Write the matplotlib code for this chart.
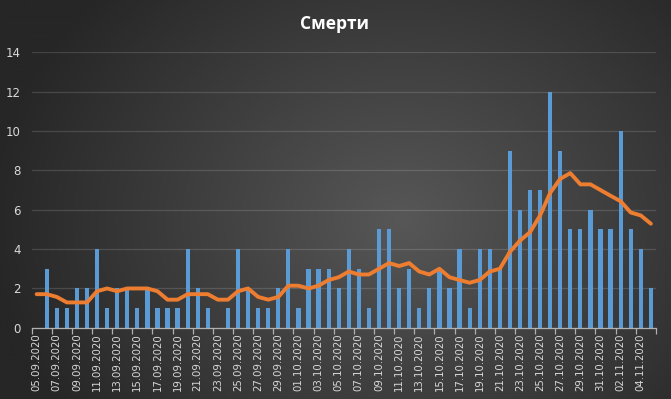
import numpy as np
import pandas as pd
import matplotlib
matplotlib.use("Agg")
import matplotlib.pyplot as plt
from matplotlib.colors import LinearSegmentedColormap

# дни (05.09.2020 - 05.11.2020)
dates = pd.date_range("2020-09-05", "2020-11-05", freq="D")
date_labels = [d.strftime("%d.%m.%Y") for d in dates]

# смерти за день
deaths = [0, 3, 1, 1, 2, 2, 4, 1, 2, 2, 1, 2, 1, 1, 1, 4, 2, 1, 0, 1, 4, 2,
          1, 1, 2, 4, 1, 3, 3, 3, 2, 4, 3, 1, 5, 5, 2, 3, 1, 2, 3, 2, 4, 1,
          4, 4, 3, 9, 6, 7, 7, 12, 9, 5, 5, 6, 5, 5, 10, 5, 4, 2]

# скользящее среднее (оранжевая линия)
avg = [1.71, 1.71, 1.57, 1.29, 1.29, 1.29, 1.86, 2.00, 1.86, 2.00, 2.00,
       2.00, 1.86, 1.43, 1.43, 1.71, 1.71, 1.71, 1.43, 1.43, 1.86, 2.00,
       1.57, 1.43, 1.57, 2.14, 2.14, 2.00, 2.14, 2.43, 2.57, 2.86, 2.71,
       2.71, 3.00, 3.29, 3.14, 3.29, 2.86, 2.71, 3.00, 2.57, 2.43, 2.29,
       2.43, 2.86, 3.00, 3.86, 4.43, 4.86, 5.71, 6.86, 7.57, 7.86, 7.29,
       7.29, 7.00, 6.71, 6.43, 5.86, 5.71, 5.29]

fig = plt.figure(figsize=(6.71, 3.99), dpi=100)

# фон с радиальным градиентом
bg = fig.add_axes([0, 0, 1, 1])
yy, xx = np.mgrid[0:1:400j, 0:1:672j]
d = np.sqrt(((xx - 0.6) / 0.62) ** 2 + ((yy - 0.45) / 0.85) ** 2)
cmap = LinearSegmentedColormap.from_list("bg", ["#575757", "#262626"])
bg.imshow(np.clip(d, 0, 1), cmap=cmap, vmin=0, vmax=1, aspect="auto",
          extent=[0, 1, 0, 1], origin="lower")
bg.axis("off")

ax = fig.add_axes([0.0471, 0.1784, 0.9304, 0.6905])
ax.patch.set_alpha(0)

x = np.arange(len(deaths))
ax.bar(x, deaths, width=0.42, color="#5b9bd5", zorder=2)
ax.plot(x, avg, color="#ed7d31", lw=2.8, solid_joinstyle="round",
        solid_capstyle="round", zorder=3)

ax.set_xlim(-0.5, len(deaths) - 0.5)
ax.set_ylim(0, 14)
ax.set_yticks(range(0, 15, 2))
ax.grid(axis="y", color="white", alpha=0.14, lw=0.9, zorder=0)

for s in ["top", "right", "left"]:
    ax.spines[s].set_visible(False)
ax.spines["bottom"].set_color("#b0b0b0")
ax.spines["bottom"].set_linewidth(0.9)

ax.set_xticks(np.arange(-0.5, len(deaths), 2))
ax.set_xticklabels([])
ax.tick_params(axis="x", which="major", length=4, color="#b0b0b0", width=0.9)
ax.set_xticks(x[::2], minor=True)
ax.set_xticklabels(date_labels[::2], minor=True, rotation=90)
ax.tick_params(axis="x", which="minor", length=0, pad=4,
               labelsize=7.3, labelcolor="#d9d9d9")
ax.tick_params(axis="y", length=0, pad=8, labelsize=8.5, labelcolor="#d9d9d9")

fig.text(0.499, 0.94, "Смерти", ha="center", va="center", color="white",
         fontsize=12.5, fontweight="bold", family=["Open Sans", "DejaVu Sans"])

fig.savefig("out.png", dpi=100)
